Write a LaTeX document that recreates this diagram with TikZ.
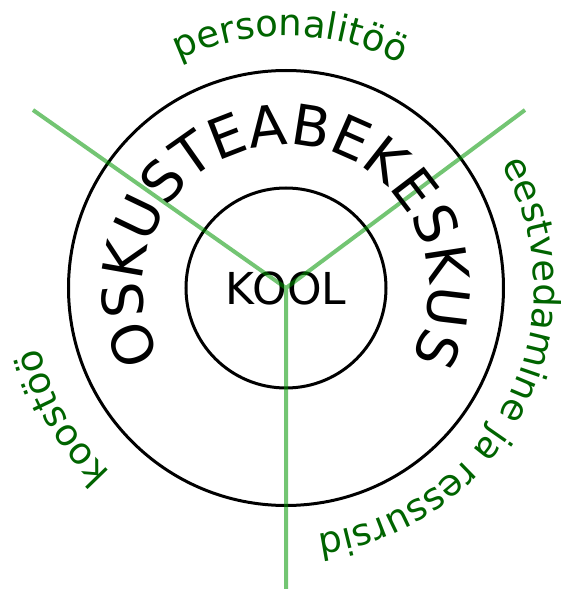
\documentclass[tikz,border=0pt]{standalone}
\usepackage{fontspec}
\setmainfont{DejaVu Sans}
\usepackage{xcolor}
\usetikzlibrary{decorations.text}
\definecolor{labelgreen}{RGB}{0,100,0}
\definecolor{spokegreen}{RGB}{0,150,0}
\newcommand{\labelfont}{\fontsize{18.5}{21}\selectfont\color{labelgreen}}
\newcommand{\ringfont}{\fontsize{28}{32}\selectfont}

\begin{document}
\begin{tikzpicture}[x=0.5pt,y=0.5pt,
  ring/.style={draw,circle,line width=1.5pt,inner sep=0pt},
  spoke/.style={line width=2pt,spokegreen,opacity=.55},
  arctext/.style={decorate,decoration={text along path,text align=center,text={#1}}}]
\useasboundingbox (-286,-301) rectangle (275,288);
\node[ring,minimum size=217.5pt] (keskus) at (0,0) {};
\node[ring,minimum size=100pt,font=\fontsize{22}{26}\selectfont] (kool) at (0,0) {KOOL};
% spokes
\coordinate (ylalvasak) at (-253,178);
\coordinate (ylalparem) at (239,178);
\coordinate (all) at (0,-301);
\draw[spoke] (ylalvasak) -- (kool.center) -- (ylalparem) (kool.center) -- (all);
% text along the circles
\path[arctext={|\ringfont|OSKUSTEABEKESKUS}] (240:143) arc[start angle=240,end angle=-60,radius=143];
\path[arctext={|\labelfont|personalitöö}] (239:252) arc[start angle=239,end angle=-61,radius=252];
\path[arctext={|\labelfont|eestvedamine ja ressursid}] (123.5:248) arc[start angle=123.5,end angle=-176.5,radius=248];
\path[arctext={|\labelfont|koostöö}] (360:254) arc[start angle=360,end angle=60,radius=254];
\end{tikzpicture}
\end{document}
